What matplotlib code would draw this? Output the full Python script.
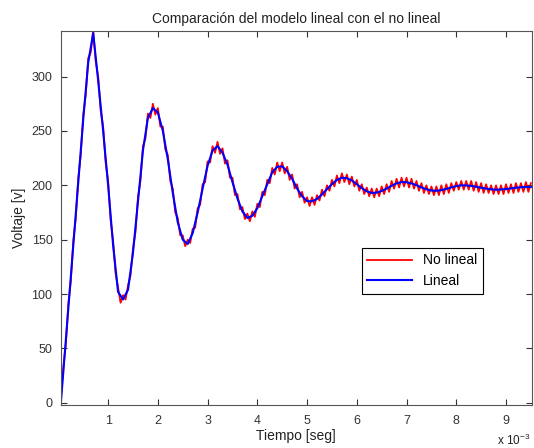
import matplotlib.pyplot as plt

plt.rcParams['font.family'] = ['Liberation Sans', 'DejaVu Sans']
plt.rcParams['mathtext.default'] = 'regular'

# tiempo en ms (0.1 ms de paso) y respuesta del modelo lineal
t_lin = [0.05] + [i / 10 for i in range(1, 96)]
v_lin = [0, 29, 87, 145, 203, 261, 313, 340, 296, 250,
         200, 145, 102, 95, 104, 138, 185, 232, 262, 271,
         267, 250, 224, 193, 166, 150, 146, 156, 175, 197,
         218, 232, 236, 230, 219, 203, 188, 176, 170, 172,
         179, 190, 201, 212, 217, 217.5, 213, 206, 197, 190,
         185.5, 185.3, 187.5, 191.6, 196.5, 201, 205, 207, 206.5, 204.5,
         201, 197.5, 194.5, 193, 193.3, 194.8, 197, 199.6, 201.8, 203,
         202.8, 201.8, 200.1, 198.1, 196.4, 195.2, 195, 195.6, 196.7, 198.1,
         199.3, 200, 199.9, 199.5, 198.7, 197.8, 197, 196.3, 196, 196.2,
         196.6, 197.2, 197.8, 198.3, 198.5, 198.4]

# modelo no lineal, 0.05 ms de paso (con rizado)
t_nl = [i / 20 for i in range(1, 191)]
v_nl = [6, 33, 54, 91, 112, 149, 170, 207, 228,
        265, 283, 317, 322, 342, 314, 300, 269, 254, 221,
        204, 168, 149, 119, 106, 92, 99, 95, 108, 117,
        142, 157, 189, 204, 236, 243, 266, 262, 275, 265,
        271, 254, 254, 233, 228, 204, 197, 175, 170, 154,
        154, 144, 150, 147, 160, 161, 179, 182, 201, 203,
        222, 221, 236, 230, 240, 229, 234, 220, 223, 207,
        207, 191, 192, 178, 180, 169, 174, 167, 176, 171,
        183, 180, 194, 191, 205, 202, 216, 210, 221, 213,
        221, 211, 217, 205, 210, 197, 201, 189, 194, 184,
        189, 181, 189, 182, 191, 186, 196, 190, 200, 195,
        205, 199, 209, 202, 211, 203, 210, 201, 208, 199,
        205, 195, 201, 192, 198, 190, 197, 189, 197, 190,
        199, 192, 201, 194, 204, 197, 206, 198, 207, 199,
        207, 198, 206, 197, 204, 195, 202, 193, 200, 192,
        199, 191, 199, 191, 200, 192, 201, 193, 202, 195,
        203, 196, 204, 196, 204, 196, 204, 195, 203, 194,
        202, 193, 201, 193, 200, 192, 200, 192, 200, 192,
        201, 193, 201, 193, 202, 194, 202, 194, 203, 194,
        202]

xticks = [1, 2, 3, 4, 5, 6, 7, 8, 9]
yticks = [0, 50, 100, 150, 200, 250, 300]

fig = plt.figure(figsize=(5.34, 4.48), dpi=100)
ax = fig.add_axes([0.114, 0.096, 0.882, 0.835])

ax.plot(t_nl, v_nl, color='red', linewidth=1.3, label='No lineal')
ax.plot(t_lin, v_lin, color='blue', linewidth=1.5, label='Lineal')

ax.set_xlim(0.05, 9.52)
ax.set_ylim(-2, 342)
ax.set_xticks(xticks)
ax.set_yticks(yticks)
ax.tick_params(direction='in', top=True, right=True, length=4,
               labelsize=9, colors='#333333', width=0.8)
ax.tick_params(axis='x', pad=7)
ax.tick_params(axis='y', pad=6)
for s in ax.spines.values():
    s.set_color('#555555')
    s.set_linewidth(0.8)

ax.set_title('Comparación del modelo lineal con el no lineal', fontsize=10,
             pad=6, color='#222222')
ax.set_xlabel('Tiempo [seg]', fontsize=10, labelpad=2, color='#222222')
ax.set_ylabel('Voltaje [v]', fontsize=10, labelpad=4, color='#222222')
fig.text(497 / 534, 1 - 440 / 448, 'x 10$^{-3}$', fontsize=8.5,
         ha='left', va='center', color='#222222')

leg = ax.legend(loc='lower left', bbox_to_anchor=(0.639, 0.297),
                borderaxespad=0, fontsize=10, handlelength=3.2,
                fancybox=False, framealpha=1, edgecolor='black')
leg.get_frame().set_linewidth(0.8)

fig.savefig('out.png', dpi=100)
